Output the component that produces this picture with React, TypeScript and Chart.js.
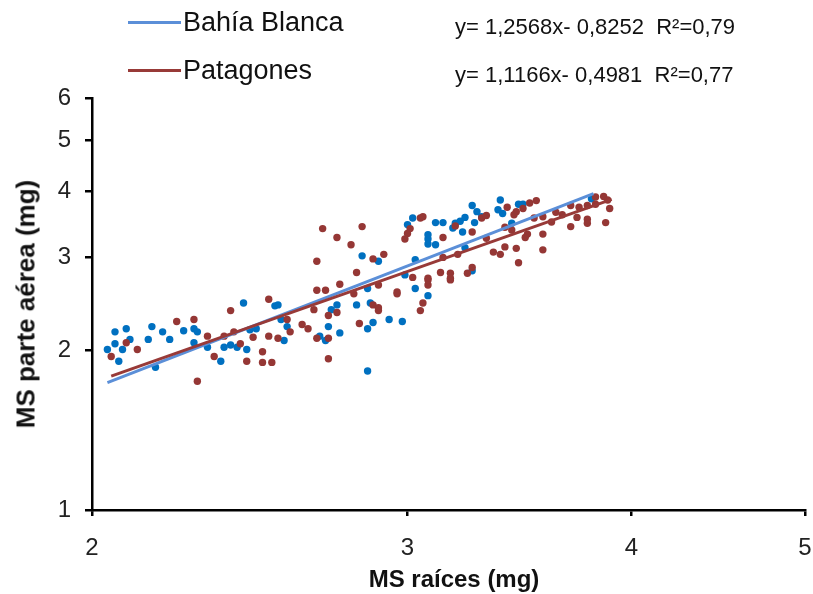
import React, { useEffect, useRef } from "react";
import { Chart, registerables } from "chart.js";

Chart.register(...registerables);

// Bahía Blanca scatter (MS raíces, MS parte aérea)
const bbX = [2.06, 2.09, 2.10, 2.06, 2.04, 2.08, 2.07, 2.15, 2.16, 2.19, 2.21, 2.25, 2.28, 2.29, 2.32, 2.36, 2.37, 2.17, 2.28,
  2.43, 2.53, 2.54, 2.55, 2.57, 2.45, 2.47, 2.39, 2.41, 2.44, 2.56, 2.68, 2.70, 2.71, 2.72, 2.74, 2.75, 2.81, 2.85, 2.85,
  2.85, 2.86, 2.87, 2.93, 2.98, 3.03, 3.08, 2.83, 3.26, 3.28, 3.30, 3.37, 3.38, 3.02, 3.00, 3.11, 3.14, 3.19, 3.21, 3.23,
  3.18, 3.22, 3.08, 3.08, 3.08, 3.11, 3.27, 3.23, 3.03, 2.89, 2.99, 3.26, 3.46, 3.48, 3.39, 3.43, 3.80];
const bbY = [2.17, 2.20, 2.10, 2.06, 2.01, 2.01, 1.91, 2.10, 2.22, 2.17, 2.10, 2.18, 2.20, 2.17, 2.03, 1.91, 2.03, 1.86, 2.07,
  2.46, 2.43, 2.44, 2.29, 2.22, 2.19, 2.20, 2.05, 2.03, 2.01, 2.09, 2.13, 2.09, 2.22, 2.39, 2.44, 2.16, 2.44, 2.20, 1.83,
  2.62, 2.46, 2.26, 2.29, 2.27, 2.62, 2.54, 3.02, 3.76, 3.66, 3.58, 3.69, 3.85, 3.56, 3.46, 3.49, 3.49, 3.48, 3.51, 3.57,
  3.41, 3.35, 3.31, 3.25, 3.18, 3.17, 3.49, 3.13, 2.97, 2.95, 2.78, 2.83, 3.78, 3.78, 3.63, 3.48, 3.87];

// Patagones scatter
const patX = [2.05, 2.09, 2.12, 2.23, 2.28, 2.32, 2.34, 2.29, 2.37, 2.39, 2.51, 2.40, 2.42, 2.46, 2.51, 2.54, 2.57, 2.58,
  2.62, 2.64, 2.67, 2.71, 2.71, 2.74, 2.66, 2.67, 2.70, 2.44, 2.49, 2.49, 2.52, 2.71, 2.80, 2.82, 2.89, 2.87, 2.89, 2.89,
  2.96, 2.96, 3.06, 3.05, 3.08, 3.08, 3.17, 2.69, 2.83, 2.74, 2.79, 2.67, 2.81, 2.75, 3.05, 3.06, 3.01, 3.00, 2.99, 3.14,
  3.19, 3.30, 3.32, 3.26, 3.32, 2.91, 2.87, 3.35, 3.38, 3.40, 3.14, 3.20, 3.26, 3.24, 3.13, 3.17, 3.17, 3.08, 3.02, 3.51,
  3.54, 3.41, 3.45, 3.44, 3.48, 3.53, 3.57, 3.61, 3.63, 3.66, 3.70, 3.74, 3.78, 3.82, 3.82, 3.86, 3.88, 3.89, 3.73, 3.78,
  3.78, 3.70, 3.87, 3.40, 3.43, 3.50, 3.49, 3.57, 3.45, 3.57, 3.46];
const patY = [1.95, 2.07, 2.01, 2.27, 2.29, 2.13, 1.95, 1.75, 2.13, 2.38, 2.50, 2.17, 2.06, 2.12, 2.13, 2.11, 2.29, 2.17,
  2.24, 2.20, 2.11, 2.11, 2.33, 2.36, 2.39, 2.60, 2.60, 1.91, 1.99, 1.90, 1.90, 1.93, 2.56, 2.25, 2.66, 2.44, 2.41, 2.38,
  2.56, 2.58, 2.46, 2.38, 2.66, 2.72, 2.72, 3.40, 3.43, 3.27, 3.17, 2.95, 2.81, 2.67, 3.56, 3.58, 3.40, 3.33, 3.25, 3.27,
  3.44, 3.56, 3.60, 3.35, 3.26, 3.04, 2.98, 3.07, 3.04, 3.14, 3.00, 3.04, 2.87, 2.80, 2.81, 2.80, 2.74, 2.74, 2.75, 3.80,
  3.84, 3.73, 3.66, 3.61, 3.71, 3.56, 3.58, 3.50, 3.65, 3.61, 3.76, 3.73, 3.76, 3.78, 3.90, 3.91, 3.85, 3.71, 3.57, 3.54,
  3.48, 3.43, 3.49, 3.42, 3.38, 3.32, 3.27, 3.32, 3.12, 3.10, 2.93];

// Trend line end points (from y = 1,2568x - 0,8252 and y = 1,1166x - 0,4981)
const bbLineX = [2.04, 3.81];
const bbLineY = [1.74, 3.96];
const patLineX = [2.05, 3.9];
const patLineY = [1.79, 3.86];

const xTicks = [2, 3, 4, 5];
const yTicks = [1, 2, 3, 4, 5, 6];

const seriesNames = ["Bahía Blanca", "Patagones"];
const equations = ["y= 1,2568x- 0,8252  R²=0,79", "y= 1,1166x- 0,4981  R²=0,77"];

const FONT = "'Liberation Sans', Arial, sans-serif";
const BLUE_PT = "#0070C0";
const RED_PT = "#953735";
const BLUE_LN = "#5B8FD8";
const RED_LN = "#983A38";

const pts = (xs: number[], ys: number[]) => xs.map((x, i) => ({ x, y: ys[i] }));

export default function App() {
  const ref = useRef<HTMLCanvasElement | null>(null);

  useEffect(() => {
    if (!ref.current) return;
    const tickFont = { family: FONT, size: 24 };
    const chart = new Chart(ref.current, {
      type: "scatter",
      data: {
        datasets: [
          {
            label: seriesNames[0] + " datos",
            data: pts(bbX, bbY),
            backgroundColor: BLUE_PT,
            borderWidth: 0,
            pointRadius: 3.7,
            order: 4,
          },
          {
            label: seriesNames[1] + " datos",
            data: pts(patX, patY),
            backgroundColor: RED_PT,
            borderWidth: 0,
            pointRadius: 3.7,
            order: 3,
          },
          {
            type: "line",
            label: seriesNames[0],
            data: pts(bbLineX, bbLineY),
            borderColor: BLUE_LN,
            borderWidth: 3,
            pointRadius: 0,
            fill: false,
            tension: 0,
            order: 2,
          },
          {
            type: "line",
            label: seriesNames[1],
            data: pts(patLineX, patLineY),
            borderColor: RED_LN,
            borderWidth: 3,
            pointRadius: 0,
            fill: false,
            tension: 0,
            order: 1,
          },
        ] as any,
      },
      options: {
        responsive: false,
        animation: false,
        layout: { padding: { top: 98, right: 8, left: 0, bottom: 0 } },
        plugins: { legend: { display: false }, tooltip: { enabled: false } },
        scales: {
          x: {
            type: "logarithmic",
            min: 2,
            max: 5,
            afterBuildTicks: (s: any) => {
              s.ticks = xTicks.map((v) => ({ value: v }));
            },
            afterFit: (s: any) => {
              s.height = 84;
              s.paddingLeft = 0;
              s.paddingRight = 0;
            },
            ticks: {
              callback: (v: any) => String(v),
              font: tickFont,
              color: "#222",
              padding: 18,
              autoSkip: false,
              maxRotation: 0,
            },
            grid: { drawOnChartArea: false, drawTicks: true, tickLength: 6, color: "#000", lineWidth: 2.5 },
            border: { display: true, color: "#000", width: 2.5 },
          },
          y: {
            type: "logarithmic",
            min: 1,
            max: 6,
            afterBuildTicks: (s: any) => {
              s.ticks = yTicks.map((v) => ({ value: v }));
            },
            afterFit: (s: any) => {
              s.width = 92;
              s.paddingTop = 0;
              s.paddingBottom = 0;
            },
            ticks: {
              callback: (v: any) => String(v),
              font: tickFont,
              color: "#222",
              padding: 14,
              autoSkip: false,
            },
            grid: { drawOnChartArea: false, drawTicks: true, tickLength: 7, color: "#000", lineWidth: 2.5 },
            border: { display: true, color: "#000", width: 2.5 },
          },
        },
      } as any,
    });
    return () => chart.destroy();
  }, []);

  const legendText: React.CSSProperties = {
    position: "absolute",
    fontFamily: FONT,
    fontSize: 27,
    color: "#111",
    lineHeight: "30px",
    whiteSpace: "pre",
  };
  const eqText: React.CSSProperties = {
    position: "absolute",
    fontFamily: FONT,
    fontSize: 22,
    color: "#111",
    lineHeight: "26px",
    whiteSpace: "pre",
  };

  return (
    <div style={{ position: "absolute", left: 0, top: 0, width: 813, height: 594, background: "#fff", overflow: "hidden" }}>
      <canvas ref={ref} width={813} height={594} style={{ position: "absolute", left: 0, top: 0, width: 813, height: 594 }} />
      <div style={{ position: "absolute", left: 128, top: 21, width: 53, height: 3, background: BLUE_LN }} />
      <div style={{ ...legendText, left: 183, top: 7 }}>{seriesNames[0]}</div>
      <div style={{ position: "absolute", left: 128, top: 69, width: 53, height: 3, background: RED_LN }} />
      <div style={{ ...legendText, left: 183, top: 55 }}>{seriesNames[1]}</div>
      <div style={{ ...eqText, left: 455, top: 14 }}>{equations[0]}</div>
      <div style={{ ...eqText, left: 455, top: 62 }}>{equations[1]}</div>
      <div
        style={{
          position: "absolute",
          left: 454,
          top: 579,
          transform: "translate(-50%, -50%)",
          fontFamily: FONT,
          fontWeight: "bold",
          fontSize: 24,
          color: "#111",
          whiteSpace: "pre",
        }}
      >
        MS raíces (mg)
      </div>
      <div
        style={{
          position: "absolute",
          left: 26,
          top: 304,
          transform: "translate(-50%, -50%) rotate(-90deg)",
          fontFamily: FONT,
          fontWeight: "bold",
          fontSize: 26,
          color: "#111",
          whiteSpace: "pre",
        }}
      >
        MS parte aérea (mg)
      </div>
    </div>
  );
}
